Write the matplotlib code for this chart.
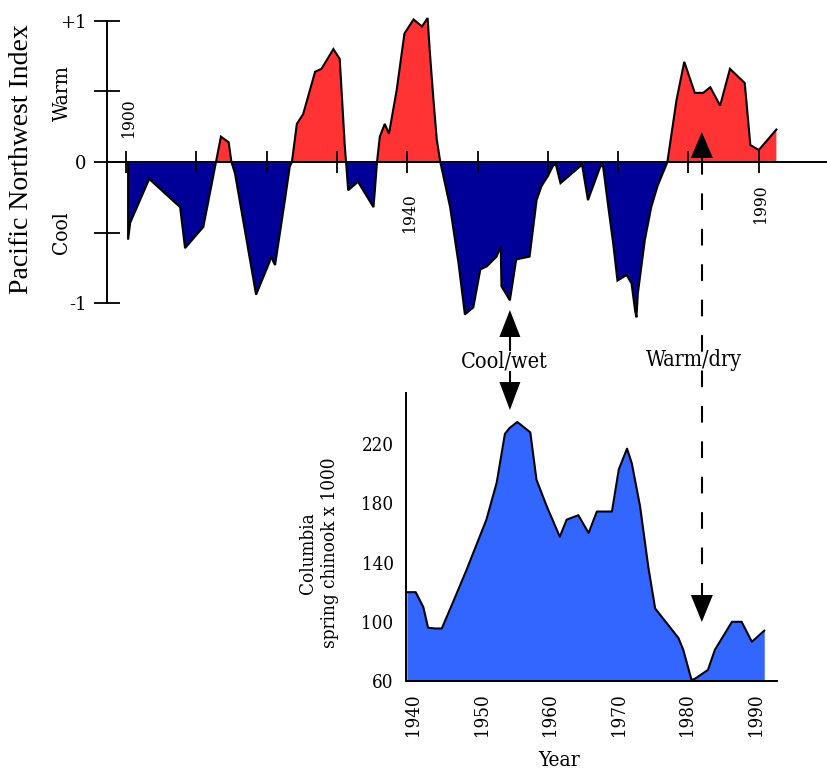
import numpy as np
import matplotlib
matplotlib.use("Agg")
import matplotlib.pyplot as plt
from matplotlib.patches import Polygon

# Pacific Northwest Index
pnw_year = [1900.3, 1900.6, 1903.3, 1907.7, 1908.4, 1910.3, 1911.0, 1912.8, 1913.5, 1914.6,
            1915.0, 1915.5, 1918.5, 1920.4, 1920.6, 1921.2, 1922.6, 1923.3, 1923.6, 1924.3,
            1925.2, 1926.9, 1927.8, 1929.5, 1930.4, 1931.1, 1931.3, 1931.6, 1933.0, 1935.2,
            1935.4, 1935.7, 1936.1, 1936.8, 1937.4, 1938.5, 1939.6, 1940.9, 1942.1, 1942.9,
            1943.2, 1943.7, 1944.2, 1944.7, 1946.1, 1947.3, 1948.2, 1949.4, 1950.4, 1951.3,
            1952.7, 1953.3, 1953.4, 1954.6, 1955.5, 1957.4, 1958.4, 1959.1, 1960.0, 1960.7,
            1961.1, 1961.8, 1964.6, 1964.8, 1965.7, 1967.4, 1967.8, 1968.6, 1969.3, 1969.9,
            1971.2, 1971.9, 1972.4, 1972.6, 1972.8, 1973.8, 1974.7, 1975.6, 1977.0, 1978.3,
            1979.4, 1980.9, 1982.1, 1983.1, 1984.5, 1985.9, 1988.0, 1988.8, 1990.0, 1992.5]
pnw_index = [-0.55, -0.43, -0.12, -0.32, -0.61, -0.50, -0.46, 0.0, 0.18, 0.14,
             0.0, -0.08, -0.94, -0.71, -0.67, -0.73, -0.27, -0.03, 0.0, 0.27,
             0.34, 0.64, 0.66, 0.80, 0.73, 0.13, 0.0, -0.20, -0.14, -0.32,
             -0.20, 0.0, 0.18, 0.27, 0.20, 0.51, 0.91, 1.01, 0.96, 1.02,
             0.79, 0.46, 0.16, 0.0, -0.32, -0.72, -1.08, -1.03, -0.76, -0.74,
             -0.67, -0.60, -0.88, -0.98, -0.69, -0.67, -0.27, -0.17, -0.10, -0.03,
             -0.01, -0.15, -0.03, 0.0, -0.27, -0.04, -0.01, -0.32, -0.58, -0.84,
             -0.80, -0.86, -1.05, -1.10, -0.93, -0.55, -0.32, -0.17, 0.0, 0.44,
             0.71, 0.49, 0.49, 0.53, 0.40, 0.66, 0.56, 0.12, 0.085, 0.23]

# Columbia spring chinook x 1000
fish_year = [1939.1, 1940.4, 1941.5, 1942.2, 1943.2, 1944.2, 1945.9, 1947.8, 1950.7, 1952.2,
             1953.4, 1954.1, 1955.2, 1957.1, 1958.0, 1959.5, 1961.4, 1962.4, 1964.1, 1965.6,
             1966.8, 1969.0, 1970.0, 1971.2, 1971.9, 1973.1, 1974.3, 1975.3, 1977.0, 1978.7,
             1979.4, 1980.6, 1981.1, 1983.0, 1984.0, 1986.5, 1987.9, 1989.4, 1991.2]
fish_count = [120, 120, 110, 96, 95.5, 95.5, 114, 135, 169, 194,
              227, 231, 235, 228, 196, 178, 157.5, 169, 172, 160,
              174.5, 174.5, 203, 217, 207, 178, 137, 109, 99, 89,
              81, 60.7, 61.5, 67.5, 81, 100, 100, 86.5, 94]

top_ticks = list(range(1900, 2000, 10))
top_labels = [(1900, 0.31), (1940, -0.36), (1990, -0.30)]
bottom_ticks = [1940, 1950, 1960, 1970, 1980, 1990]
fish_ticks = [60, 100, 140, 180, 220]

red = "#ff3333"
navy = "#000099"
blue = "#3366ff"
serif = "DejaVu Serif"

W, H = 827, 769
fig = plt.figure(figsize=(W / 100, H / 100), dpi=100)


def box(l, t, r, b):
    return [l / W, 1 - b / H, (r - l) / W, (b - t) / H]


# top panel
ax = fig.add_axes(box(107, 10, 827, 330))
x = np.array(pnw_year)
y = np.array(pnw_index)
ax.fill_between(x, y, 0, where=y >= 0, interpolate=True, color=red, lw=0)
ax.fill_between(x, y, 0, where=y <= 0, interpolate=True, color=navy, lw=0)
ax.plot(np.r_[x[0], x], np.r_[0, y], color="black", lw=1.5, solid_joinstyle="miter")
ax.set_xlim(1897.3, 1999.7)
ax.set_ylim(-1.19, 1.077)
for s in ["top", "right"]:
    ax.spines[s].set_visible(False)
ax.spines["left"].set_bounds(-1, 1)
ax.spines["bottom"].set_position(("data", 0))
ax.spines["left"].set_linewidth(1.4)
ax.spines["bottom"].set_linewidth(1.4)
ax.set_xticks(top_ticks)
ax.set_xticklabels([])
ax.tick_params(axis="x", direction="inout", length=16, width=1.3)
ax.set_yticks([-1, -0.5, 0, 0.5, 1])
ax.set_yticklabels(["-1", "", "0", "", "+1"], family=serif, fontsize=13)
ax.tick_params(axis="y", direction="inout", length=19, width=1.3, pad=5)
ax.patch.set_alpha(0)
for yr, pos in top_labels:
    ax.text(yr + 0.3, pos, str(yr), rotation=90, ha="center", va="center",
            family=serif, fontstretch="condensed", fontsize=12.5)

fig.text(22 / W, 1 - 159 / H, "Pacific Northwest Index", rotation=90, ha="center",
         va="center", family="Liberation Serif", fontsize=20)
fig.text(62 / W, 1 - 93 / H, "Warm", rotation=90, ha="center", va="center",
         family=serif, fontstretch="condensed", fontsize=15)
fig.text(62 / W, 1 - 233 / H, "Cool", rotation=90, ha="center", va="center",
         family=serif, fontstretch="condensed", fontsize=15)

# bottom panel
bx = fig.add_axes(box(406, 393, 777, 681))
bx.fill_between(fish_year, fish_count, 60, color=blue, lw=0)
bx.plot(fish_year, fish_count, color="black", lw=1.5)
bx.set_xlim(1938.98, 1993.06)
bx.set_ylim(60, 254.6)
for s in ["top", "right"]:
    bx.spines[s].set_visible(False)
bx.spines["left"].set_linewidth(1.4)
bx.spines["bottom"].set_linewidth(1.4)
bx.set_xticks(bottom_ticks)
bx.set_xticklabels([str(t) for t in bottom_ticks], rotation=90, family=serif,
                   fontstretch="condensed", fontsize=13.5)
bx.set_yticks(fish_ticks)
bx.set_yticklabels([str(t) for t in fish_ticks], family=serif,
                   fontstretch="condensed", fontsize=13.5)
bx.tick_params(length=0, pad=9)
bx.patch.set_alpha(0)
fig.text(559 / W, 1 - 760 / H, "Year", ha="center", va="center", family=serif,
         fontstretch="condensed", fontsize=15)
fig.text(319 / W, 1 - 553 / H, "Columbia\nspring chinook x 1000", rotation=90,
         ha="center", va="center", multialignment="center", family=serif,
         fontstretch="condensed", fontsize=13.5, linespacing=1.3)

# arrows, in a pixel overlay
ov = fig.add_axes([0, 0, 1, 1])
ov.set_xlim(0, W)
ov.set_ylim(H, 0)
ov.axis("off")


def xpix(year):
    return ax.transData.transform((year, 0))[0]


def tri(xc, tip, base, half):
    ov.add_patch(Polygon([(xc, tip), (xc - half, base), (xc + half, base)],
                         closed=True, color="black", lw=0))


xc = xpix(1954.6)
tri(xc, 310, 337, 10.5)
ov.plot([xc, xc], [337, 350], color="black", lw=1.5)
ov.text(xc - 6, 361, "Cool/wet", ha="center", va="center", family=serif,
        fontstretch="condensed", fontsize=15.5)
ov.plot([xc, xc], [372, 383], color="black", lw=1.5)
tri(xc, 410, 382, 10.5)

xw = xpix(1981.9)
tri(xw, 132, 158, 11)
ov.plot([xw, xw], [158, 596], color="black", lw=1.5, ls=(0, (8, 9)))
ov.text(xw - 8, 360, "Warm/dry", ha="center", va="center", family=serif,
        fontstretch="condensed", fontsize=15.5)
tri(xw, 622, 595, 11)

fig.savefig("out.png", dpi=100, facecolor="white")
